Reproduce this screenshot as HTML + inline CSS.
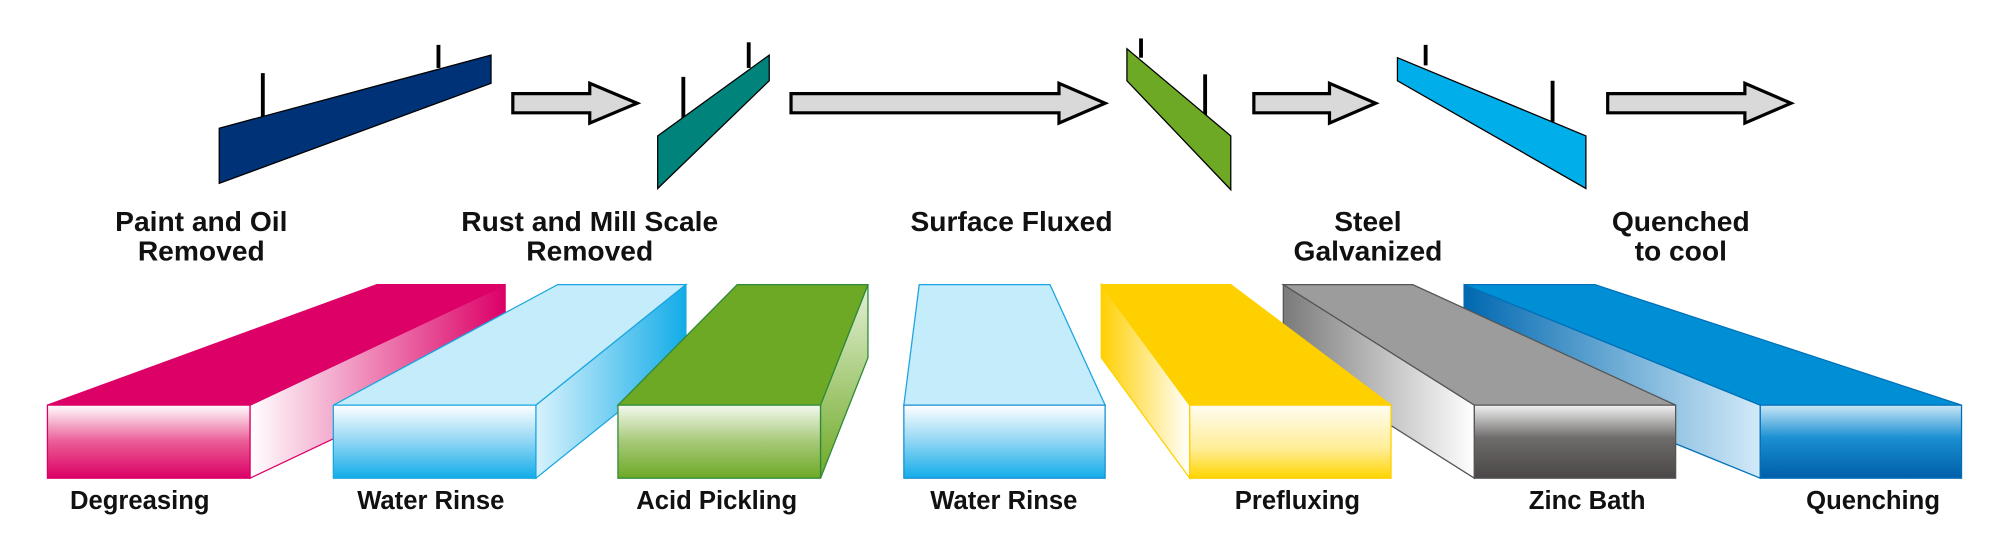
<!DOCTYPE html>
<html><head><meta charset="utf-8"><style>html,body{margin:0;padding:0;background:#fff}svg{display:block}</style></head>
<body>
<svg width="2000" height="550" viewBox="0 0 1560 429" preserveAspectRatio="none" xmlns="http://www.w3.org/2000/svg">
<defs>
<linearGradient id="fPink" x1="0" y1="0" x2="0" y2="1"><stop offset="0" stop-color="#fff"/><stop offset="0.5" stop-color="#ea5c95"/><stop offset="1" stop-color="#dc0067"/></linearGradient>
<linearGradient id="sPink" x1="0" y1="0" x2="1" y2="0"><stop offset="0" stop-color="#fff"/><stop offset="1" stop-color="#dc0067"/></linearGradient>
<linearGradient id="fBlue" x1="0" y1="0" x2="0" y2="1"><stop offset="0" stop-color="#fff"/><stop offset="0.5" stop-color="#8fd6f4"/><stop offset="1" stop-color="#12ace8"/></linearGradient>
<linearGradient id="sBlue" x1="0" y1="0" x2="1" y2="0"><stop offset="0" stop-color="#d8f2fc"/><stop offset="1" stop-color="#12ace8"/></linearGradient>
<linearGradient id="fGreen" x1="0" y1="0" x2="0" y2="1"><stop offset="0" stop-color="#f4f8ee"/><stop offset="0.5" stop-color="#a6c978"/><stop offset="1" stop-color="#6ea925"/></linearGradient>
<linearGradient id="sGreen" x1="0" y1="0" x2="0" y2="1"><stop offset="0" stop-color="#e4f0d6"/><stop offset="1" stop-color="#6ea925"/></linearGradient>
<linearGradient id="fYel" x1="0" y1="0" x2="0" y2="1"><stop offset="0" stop-color="#fffdf2"/><stop offset="0.6" stop-color="#ffed95"/><stop offset="1" stop-color="#ffd500"/></linearGradient>
<linearGradient id="sYel" x1="0" y1="0" x2="1" y2="0"><stop offset="0" stop-color="#ffd000"/><stop offset="1" stop-color="#fff"/></linearGradient>
<linearGradient id="fGrey" x1="0" y1="0" x2="0" y2="1"><stop offset="0" stop-color="#f2f2f2"/><stop offset="0.45" stop-color="#6e6c6b"/><stop offset="1" stop-color="#4a4746"/></linearGradient>
<linearGradient id="sGrey" x1="0" y1="0" x2="1" y2="0"><stop offset="0" stop-color="#7a7a7a"/><stop offset="1" stop-color="#fff"/></linearGradient>
<linearGradient id="fQ" x1="0" y1="0" x2="0" y2="1"><stop offset="0" stop-color="#c8e6f6"/><stop offset="0.45" stop-color="#1a8fd2"/><stop offset="1" stop-color="#005ea8"/></linearGradient>
<linearGradient id="sQ" x1="0" y1="0" x2="1" y2="0"><stop offset="0" stop-color="#0068b0"/><stop offset="1" stop-color="#d2eaf8"/></linearGradient>
</defs>

<g stroke="#000" stroke-width="3">
<line x1="205" y1="57" x2="205" y2="92"/><line x1="342" y1="35" x2="342" y2="53"/>
<line x1="533" y1="60" x2="533" y2="100"/><line x1="584" y1="33" x2="584" y2="53"/>
<line x1="890" y1="30" x2="890" y2="45"/><line x1="940" y1="58" x2="940" y2="91"/>
<line x1="1112" y1="35" x2="1112" y2="51"/><line x1="1211" y1="63" x2="1211" y2="95"/>
</g>
<g stroke="#000" stroke-width="1">
<polygon points="171,100 383,43 383,65 171,143" fill="#003278"/>
<polygon points="513,106 600,43 600,63 513,147" fill="#00837a"/>
<polygon points="879,38 960,106 960,148 879,63" fill="#6ea925"/>
<polygon points="1090,45 1237,106 1237,147 1090,63" fill="#00aeea"/>
</g>

<g fill="#d9d9d9" stroke="#000" stroke-width="2.5" stroke-linejoin="miter">
<polygon points="400,73 460,73 460,65 497,80.5 460,96 460,88 400,88"/>
<polygon points="617,73 826,73 826,65 862,80.5 826,96 826,88 617,88"/>
<polygon points="978,73 1037,73 1037,65 1073,80.5 1037,96 1037,88 978,88"/>
<polygon points="1254,73 1361,73 1361,65 1397,80.5 1361,96 1361,88 1254,88"/>
</g>

<g font-family="Liberation Sans, Arial, sans-serif" font-weight="bold" font-size="22" text-anchor="middle" fill="#111">
<text x="157" y="180">Paint and Oil</text><text x="157" y="203">Removed</text>
<text x="460" y="180">Rust and Mill Scale</text><text x="460" y="203">Removed</text>
<text x="789" y="180">Surface Fluxed</text>
<text x="1067" y="180">Steel</text><text x="1067" y="203">Galvanized</text>
<text x="1311" y="180">Quenched</text><text x="1311" y="203">to cool</text>
</g>

<g stroke-width="1">
<polygon points="195,316 394,222 394,279 195,373" fill="url(#sPink)" stroke="#dc0067"/>
<polygon points="37,316 195,316 394,222 294,222" fill="#dc0067" stroke="#dc0067"/>
<rect x="37" y="316" width="158" height="57" fill="url(#fPink)" stroke="#dc0067"/>

<polygon points="418,316 535,222 535,279 418,373" fill="url(#sBlue)" stroke="#1aa6e0"/>
<polygon points="260,316 418,316 535,222 435,222" fill="#c5ecfb" stroke="#1aa6e0"/>
<rect x="260" y="316" width="158" height="57" fill="url(#fBlue)" stroke="#1aa6e0"/>

<polygon points="640,316 677,222 677,279 640,373" fill="url(#sGreen)" stroke="#2e8a3a"/>
<polygon points="482,316 640,316 677,222 575,222" fill="#6ea925" stroke="#2e8a3a"/>
<rect x="482" y="316" width="158" height="57" fill="url(#fGreen)" stroke="#2e8a3a"/>

<polygon points="705,316 862,316 819,222 717,222" fill="#c5ecfb" stroke="#1aa6e0"/>
<rect x="705" y="316" width="157" height="57" fill="url(#fBlue)" stroke="#1a8fd2"/>

<polygon points="1142,222 1373,316 1373,373 1142,279" fill="url(#sQ)" stroke="#0070b8"/>
<polygon points="1373,316 1530,316 1244,222 1142,222" fill="#008fd5" stroke="#0070b8"/>
<rect x="1373" y="316" width="157" height="57" fill="url(#fQ)" stroke="#0070b8"/>

<polygon points="1001,222 1150,316 1150,373 1001,279" fill="url(#sGrey)" stroke="#555"/>
<polygon points="1150,316 1307,316 1102,222 1001,222" fill="#9d9c9c" stroke="#555"/>
<rect x="1150" y="316" width="157" height="57" fill="url(#fGrey)" stroke="#555"/>

<polygon points="859,222 928,316 928,373 859,279" fill="url(#sYel)" stroke="#ffd000"/>
<polygon points="928,316 1085,316 960,222 859,222" fill="#ffd000" stroke="#ffd000"/>
<rect x="928" y="316" width="157" height="57" fill="url(#fYel)" stroke="#ffd000"/>
</g>

<g font-family="Liberation Sans, Arial, sans-serif" font-weight="bold" font-size="20" text-anchor="middle" fill="#111">
<text x="109" y="397">Degreasing</text>
<text x="336" y="397">Water Rinse</text>
<text x="559" y="397">Acid Pickling</text>
<text x="783" y="397">Water Rinse</text>
<text x="1012" y="397">Prefluxing</text>
<text x="1238" y="397">Zinc Bath</text>
<text x="1461" y="397">Quenching</text>
</g>
</svg>
</body></html>
